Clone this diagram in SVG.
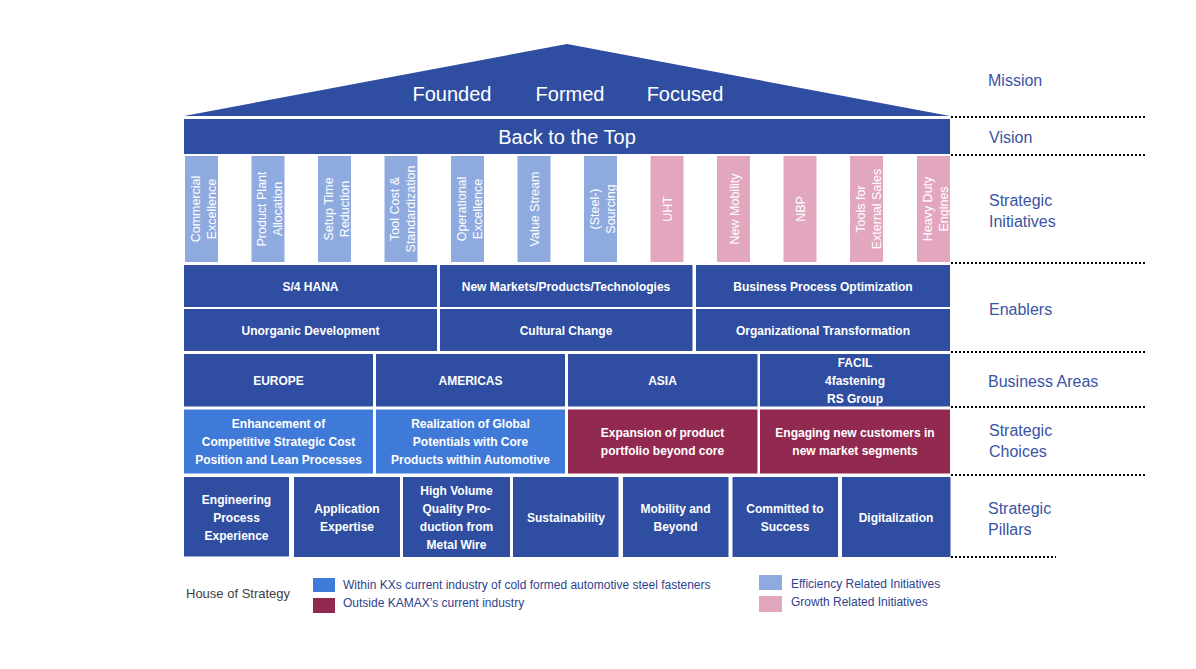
<svg xmlns="http://www.w3.org/2000/svg" width="1196" height="669" viewBox="0 0 1196 669">
<style>
.dk{fill:#2f4ea1}
.lb{fill:#8eaadf}
.pk{fill:#e3a6bf}
.cb{fill:#3f7ad9}
.mr{fill:#922950}
.bt{font-family:"Liberation Sans",Arial,sans-serif;font-size:12px;font-weight:bold;fill:#fff;text-anchor:middle}
.ct{font-family:"Liberation Sans",Arial,sans-serif;font-size:12.5px;fill:#fff;text-anchor:middle}
.rt{font-family:"Liberation Sans",Arial,sans-serif;font-size:16px;fill:#3b53a4}
.big{font-family:"Liberation Sans",Arial,sans-serif;font-size:20px;fill:#fff;text-anchor:middle}
.lg{font-family:"Liberation Sans",Arial,sans-serif;font-size:12px;fill:#2e3f8e}
.dot{stroke:#000;stroke-width:2;stroke-dasharray:2 2;fill:none}
</style>
<rect width="1196" height="669" fill="#fff"/>
<g id="connectors">
<line class="dot" x1="951" y1="117" x2="1146" y2="117"/>
<line class="dot" x1="951" y1="155" x2="1146" y2="155"/>
<line class="dot" x1="951" y1="263" x2="1146" y2="263"/>
<line class="dot" x1="951" y1="352" x2="1146" y2="352"/>
<line class="dot" x1="951" y1="407" x2="1146" y2="407"/>
<line class="dot" x1="951" y1="475" x2="1146" y2="475"/>
<line class="dot" x1="951" y1="557" x2="1056" y2="557"/>
</g>
<g id="mission">
<polygon class="dk" points="184,116 567,44 950,116"/>
<text class="big" x="452" y="101">Founded</text>
<text class="big" x="570" y="101">Formed</text>
<text class="big" x="685" y="101">Focused</text>
</g>
<g id="vision">
<rect class="dk" x="184" y="119" width="766" height="35"/>
<text class="big" x="567" y="144">Back to the Top</text>
</g>
<g id="initiatives">
<rect class="lb" x="185" y="156" width="33" height="106"/>
<text class="ct" transform="translate(201.5,209) rotate(-90)"><tspan x="0" y="-2">Commercial</tspan><tspan x="0" y="14">Excellence</tspan></text>
<rect class="lb" x="251.5" y="156" width="33" height="106"/>
<text class="ct" transform="translate(268,209) rotate(-90)"><tspan x="0" y="-2">Product Plant</tspan><tspan x="0" y="14">Allocation</tspan></text>
<rect class="lb" x="318" y="156" width="33" height="106"/>
<text class="ct" transform="translate(334.5,209) rotate(-90)"><tspan x="0" y="-2">Setup Time</tspan><tspan x="0" y="14">Reduction</tspan></text>
<rect class="lb" x="384.5" y="156" width="33" height="106"/>
<text class="ct" transform="translate(401,209) rotate(-90)"><tspan x="0" y="-2">Tool Cost &amp;</tspan><tspan x="0" y="14">Standardization</tspan></text>
<rect class="lb" x="451" y="156" width="33" height="106"/>
<text class="ct" transform="translate(467.5,209) rotate(-90)"><tspan x="0" y="-2">Operational</tspan><tspan x="0" y="14">Excellence</tspan></text>
<rect class="lb" x="517.5" y="156" width="33" height="106"/>
<text class="ct" transform="translate(534,209) rotate(-90)"><tspan x="0" y="5">Value Stream</tspan></text>
<rect class="lb" x="584" y="156" width="33" height="106"/>
<text class="ct" transform="translate(600.5,209) rotate(-90)"><tspan x="0" y="-2">(Steel-)</tspan><tspan x="0" y="14">Sourcing</tspan></text>
<rect class="pk" x="650.5" y="156" width="33" height="106"/>
<text class="ct" transform="translate(667,209) rotate(-90)"><tspan x="0" y="5">UHT</tspan></text>
<rect class="pk" x="717" y="156" width="33" height="106"/>
<text class="ct" transform="translate(733.5,209) rotate(-90)"><tspan x="0" y="5">New Mobility</tspan></text>
<rect class="pk" x="783.5" y="156" width="33" height="106"/>
<text class="ct" transform="translate(800,209) rotate(-90)"><tspan x="0" y="5">NBP</tspan></text>
<rect class="pk" x="850" y="156" width="33" height="106"/>
<text class="ct" transform="translate(866.5,209) rotate(-90)"><tspan x="0" y="-2">Tools for</tspan><tspan x="0" y="14">External Sales</tspan></text>
<rect class="pk" x="917" y="156" width="33" height="106"/>
<text class="ct" transform="translate(933.5,209) rotate(-90)"><tspan x="0" y="-2">Heavy Duty</tspan><tspan x="0" y="14">Engines</tspan></text>
</g>
<g id="enablers">
<rect class="dk" x="184" y="265" width="253" height="42"/>
<text class="bt" x="310.5" y="290.5">S/4 HANA</text>
<rect class="dk" x="440" y="265" width="252.5" height="42"/>
<text class="bt" x="566" y="290.5">New Markets/Products/Technologies</text>
<rect class="dk" x="696" y="265" width="254" height="42"/>
<text class="bt" x="823" y="290.5">Business Process Optimization</text>
<rect class="dk" x="184" y="309" width="253" height="42"/>
<text class="bt" x="310.5" y="334.5">Unorganic Development</text>
<rect class="dk" x="440" y="309" width="252.5" height="42"/>
<text class="bt" x="566" y="334.5">Cultural Change</text>
<rect class="dk" x="696" y="309" width="254" height="42"/>
<text class="bt" x="823" y="334.5">Organizational Transformation</text>
</g>
<g id="business-areas">
<rect class="dk" x="184" y="354" width="189" height="52.5"/>
<text class="bt" x="278.5" y="384.5">EUROPE</text>
<rect class="dk" x="376" y="354" width="189" height="52.5"/>
<text class="bt" x="470.5" y="384.5">AMERICAS</text>
<rect class="dk" x="568" y="354" width="189.5" height="52.5"/>
<text class="bt" x="662.5" y="384.5">ASIA</text>
<rect class="dk" x="760" y="354" width="190" height="52.5"/>
<text class="bt" x="855" y="366.5"><tspan x="855">FACIL</tspan><tspan x="855" dy="18">4fastening</tspan><tspan x="855" dy="18">RS Group</tspan></text>
</g>
<g id="choices">
<rect class="cb" x="184" y="409.5" width="189" height="64"/>
<text class="bt" x="278.5" y="427.5"><tspan x="278.5">Enhancement of</tspan><tspan x="278.5" dy="18">Competitive Strategic Cost</tspan><tspan x="278.5" dy="18">Position and Lean Processes</tspan></text>
<rect class="cb" x="376" y="409.5" width="189" height="64"/>
<text class="bt" x="470.5" y="427.5"><tspan x="470.5">Realization of Global</tspan><tspan x="470.5" dy="18">Potentials with Core</tspan><tspan x="470.5" dy="18">Products within Automotive</tspan></text>
<rect class="mr" x="568" y="409.5" width="189.5" height="64"/>
<text class="bt" x="662.5" y="436.5"><tspan x="662.5">Expansion of product</tspan><tspan x="662.5" dy="18">portfolio beyond core</tspan></text>
<rect class="mr" x="760" y="409.5" width="190" height="64"/>
<text class="bt" x="855" y="436.5"><tspan x="855">Engaging new customers in</tspan><tspan x="855" dy="18">new market segments</tspan></text>
</g>
<g id="pillars">
<rect class="dk" x="184" y="477" width="105" height="79.5"/>
<text class="bt" x="236.5" y="503.5"><tspan x="236.5">Engineering</tspan><tspan x="236.5" dy="18">Process</tspan><tspan x="236.5" dy="18">Experience</tspan></text>
<rect class="dk" x="294" y="477" width="106" height="80"/>
<text class="bt" x="347" y="512.5"><tspan x="347">Application</tspan><tspan x="347" dy="18">Expertise</tspan></text>
<rect class="dk" x="403" y="477" width="107" height="80"/>
<text class="bt" x="456.5" y="495"><tspan x="456.5">High Volume</tspan><tspan x="456.5" dy="18">Quality Pro-</tspan><tspan x="456.5" dy="18">duction from</tspan><tspan x="456.5" dy="18">Metal Wire</tspan></text>
<rect class="dk" x="513" y="477" width="105.5" height="80"/>
<text class="bt" x="566" y="521.5">Sustainability</text>
<rect class="dk" x="623" y="477" width="105.5" height="80"/>
<text class="bt" x="675.5" y="512.5"><tspan x="675.5">Mobility and</tspan><tspan x="675.5" dy="18">Beyond</tspan></text>
<rect class="dk" x="732.5" y="477" width="105.5" height="80"/>
<text class="bt" x="785" y="512.5"><tspan x="785">Committed to</tspan><tspan x="785" dy="18">Success</tspan></text>
<rect class="dk" x="842" y="477" width="108.5" height="80"/>
<text class="bt" x="896" y="521.5">Digitalization</text>
</g>
<g id="labels">
<text class="rt" x="988" y="86">Mission</text>
<text class="rt" x="989" y="143">Vision</text>
<text class="rt" x="989" y="206"><tspan x="989">Strategic</tspan><tspan x="989" dy="21">Initiatives</tspan></text>
<text class="rt" x="989" y="315">Enablers</text>
<text class="rt" x="988" y="387">Business Areas</text>
<text class="rt" x="989" y="436"><tspan x="989">Strategic</tspan><tspan x="989" dy="21">Choices</tspan></text>
<text class="rt" x="988" y="514"><tspan x="988">Strategic</tspan><tspan x="988" dy="21">Pillars</tspan></text>
</g>
<g id="legend">
<text x="186" y="598" style="font-family:'Liberation Sans',Arial,sans-serif;font-size:13px;fill:#404040">House of Strategy</text>
<rect class="cb" x="313" y="578" width="22" height="14"/>
<text class="lg" x="343" y="589">Within KXs current industry of cold formed automotive steel fasteners</text>
<rect class="mr" x="313" y="598" width="22" height="15"/>
<text class="lg" x="343" y="607">Outside KAMAX’s current industry</text>
<rect class="lb" x="759" y="575" width="23" height="15"/>
<text class="lg" x="791" y="588">Efficiency Related Initiatives</text>
<rect class="pk" x="759" y="596" width="23" height="16"/>
<text class="lg" x="791" y="606">Growth Related Initiatives</text>
</g>
</svg>
